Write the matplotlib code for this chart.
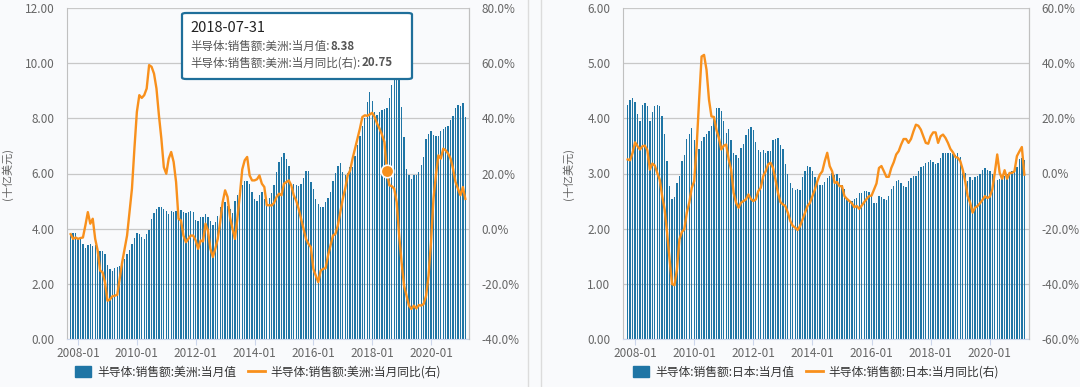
import numpy as np
import pandas as pd
import matplotlib
matplotlib.use("Agg")
import matplotlib.pyplot as plt
from matplotlib.patches import FancyBboxPatch, Patch
from matplotlib.lines import Line2D
from matplotlib.ticker import FixedLocator, FuncFormatter

plt.rcParams["font.family"] = ["Noto Sans CJK SC", "DejaVu Sans"]

# monthly categories, 2007-10 .. 2021-03
months = pd.date_range("2007-10-01", periods=162, freq="MS")
tick_labels = ["2008-01", "2010-01", "2012-01", "2014-01", "2016-01", "2018-01", "2020-01"]

# Americas: monthly sales (bn USD) and yoy (%)
am_val = [
    3.80, 3.83, 3.83, 3.62, 3.62, 3.43, 3.30, 3.42, 3.43, 3.38,
    3.40, 3.32, 3.20, 3.20, 3.07, 2.69, 2.52, 2.45, 2.57, 2.60,
    2.63, 2.79, 2.90, 3.08, 3.24, 3.43, 3.65, 3.86, 3.82, 3.71,
    3.62, 3.80, 3.95, 4.36, 4.57, 4.71, 4.79, 4.79, 4.73, 4.65,
    4.54, 4.65, 4.61, 4.65, 4.43, 4.67, 4.60, 4.57, 4.61, 4.65,
    4.61, 4.33, 4.27, 4.42, 4.44, 4.54, 4.43, 4.27, 4.15, 4.24,
    4.46, 4.77, 4.78, 4.96, 4.82, 4.72, 4.58, 5.01, 5.21, 5.39,
    5.59, 5.74, 5.71, 5.63, 5.33, 5.08, 5.02, 5.21, 5.33, 5.08,
    5.02,
    5.10, 5.30, 5.57, 6.05, 6.42, 6.60, 6.74, 6.54, 6.27, 5.63,
    5.63, 5.57, 5.54, 5.63, 5.84, 6.08, 6.08, 5.69, 5.42, 5.06,
    4.89, 4.79, 4.79, 4.96, 5.12, 5.33, 5.71, 6.03, 6.27, 6.39,
    6.05, 5.96, 6.03, 6.23, 6.23, 6.63, 7.02, 7.36, 7.72, 8.01,
    8.60, 8.96, 8.62, 8.23, 8.11, 8.23, 8.29, 8.35, 8.38, 8.72,
    9.22, 9.59, 9.75, 9.45, 8.41, 7.32, 6.17, 5.96, 5.79, 5.93,
    5.96, 6.05, 6.32, 6.60, 7.24, 7.45, 7.53, 7.41, 7.36, 7.36,
    7.53, 7.63, 7.70, 7.72, 7.93, 8.09, 8.38, 8.50, 8.45, 8.54,
    8.04,
]
am_yoy = [
    -2.0, -3.7, -3.2, -3.7, -3.4, -3.2, 1.2, 6.0, 1.8, 3.6,
    -3.7, -7.9, -15.2, -15.8, -19.4, -26.1, -25.7, -24.5, -24.3, -24.0,
    -18.2, -12.2, -7.3, -2.5, 6.0, 14.5, 29.0, 42.3, 48.4, 47.4,
    48.4, 50.8, 59.3, 58.7, 56.2, 50.8, 41.1, 32.6, 22.3, 19.9,
    25.4, 27.8, 24.2, 16.9, 3.6, 3.0, -2.5, -4.9, -3.7, -2.5,
    -2.5, -4.3, -7.3, -4.3, -4.6, 1.8, -0.7, -7.3, -10.3, -7.3,
    -3.7, 2.4, 9.6, 13.9, 11.5, 4.2, 0.0, -3.7, 3.6, 12.1,
    21.5, 24.8, 26.0, 19.3, 17.5, 17.5, 17.9, 19.3, 16.3, 15.1,
    8.5,
    8.5, 8.4, 9.4, 11.5, 12.7, 12.1, 16.3, 16.9, 17.5, 15.7,
    12.1, 10.2, 7.2, 3.6, 0.0, -3.7, -5.5, -6.7, -14.6, -17.0,
    -19.4, -15.2, -14.6, -14.3, -9.7, -6.1, -2.5, -1.9, 1.2, 6.0,
    10.8, 14.5, 19.3, 21.1, 25.4, 29.0, 32.6, 36.3, 40.5, 41.1,
    40.9, 41.4, 42.0, 40.5, 38.1, 36.3, 34.1, 31.4, 20.75, 15.7,
    15.4, 14.5, 9.6, -2.5, -12.2, -20.6, -24.3, -27.9, -29.1, -27.9,
    -28.9, -27.7, -27.9, -27.3, -24.3, -17.0, -4.9, 10.8, 19.3, 26.6,
    25.4, 29.0, 28.4, 27.2, 25.4, 21.7, 16.9, 14.5, 12.1, 15.1,
    10.8,
]

# Japan: monthly sales (bn USD) and yoy (%)
jp_val = [
    4.25, 4.34, 4.37, 4.30, 4.08, 3.95, 4.25, 4.28, 4.23, 3.95,
    4.11, 4.22, 4.24, 4.23, 4.05, 3.72, 3.22, 2.78, 2.53, 2.57,
    2.82, 2.96, 3.22, 3.34, 3.63, 3.72, 3.83, 3.60, 3.46, 3.45,
    3.59, 3.67, 3.72, 3.77, 3.87, 3.98, 4.19, 4.19, 4.14, 3.96,
    3.73, 3.81, 3.60, 3.37, 3.33, 3.28, 3.46, 3.54, 3.70, 3.80,
    3.84, 3.78, 3.58, 3.43, 3.39, 3.43, 3.37, 3.40, 3.40, 3.61,
    3.63, 3.64, 3.52, 3.45, 3.18, 3.00, 2.83, 2.74, 2.70, 2.72,
    2.70, 2.93, 3.05, 3.14, 3.12, 3.05, 2.93, 2.86, 2.80, 2.80,
    2.84,
    2.92, 2.95, 3.01, 2.98, 3.00, 2.92, 2.79, 2.71, 2.56, 2.52,
    2.50, 2.53, 2.56, 2.64, 2.65, 2.68, 2.68, 2.66, 2.59, 2.47,
    2.46, 2.59, 2.58, 2.54, 2.52, 2.59, 2.72, 2.78, 2.86, 2.89,
    2.83, 2.78, 2.76, 2.86, 2.92, 2.95, 2.96, 3.04, 3.12, 3.13,
    3.19, 3.20, 3.24, 3.20, 3.18, 3.19, 3.28, 3.37, 3.37, 3.37,
    3.37, 3.36, 3.34, 3.37, 3.30, 3.14, 3.01, 2.86, 2.94, 2.88,
    2.94, 2.96, 3.00, 3.06, 3.10, 3.07, 3.04, 3.00, 2.94, 2.88,
    2.90, 2.95, 2.96, 3.00, 3.01, 3.04, 3.07, 3.12, 3.27, 3.28,
    3.25,
]
jp_yoy = [
    5.1, 4.8, 7.5, 11.3, 9.9, 8.7, 9.9, 10.1, 8.4, 1.4,
    3.6, 2.9, 0.2, -2.2, -8.2, -13.0, -21.4, -31.1, -40.1, -40.5,
    -34.7, -23.9, -21.2, -20.2, -14.2, -10.6, -5.2, -2.8, 9.9, 26.8,
    42.4, 43.0, 37.6, 26.8, 20.7, 20.5, 15.9, 12.9, 8.7, 10.1,
    10.5, 5.1, 1.4, -7.0, -10.6, -12.4, -10.6, -10.0, -9.4, -7.6,
    -9.2, -10.0, -9.4, -6.4, -5.2, -1.0, 0.8, 3.3, 3.9, 2.0,
    -2.2, -7.0, -10.4, -11.2, -11.8, -14.2, -17.2, -19.0, -19.6, -20.5,
    -19.0, -16.6, -14.2, -11.8, -10.6, -8.2, -5.8, -2.8, -0.4, 0.8,
    4.5,
    7.5, 2.7, 0.8, -3.4, -3.1, -4.6, -4.6, -8.2, -9.2, -10.0,
    -10.8, -12.2, -11.8, -12.8, -11.6, -10.4, -9.2, -8.2, -8.0, -5.8,
    -3.6, 2.0, 2.7, 0.8, -1.2, -1.2, 2.0, 4.1, 6.9, 8.1,
    10.5, 12.5, 12.5, 11.1, 12.5, 15.3, 17.7, 17.3, 15.9, 13.5,
    11.1, 10.8, 13.5, 14.9, 14.9, 11.1, 13.5, 14.1, 12.9, 11.1,
    8.9, 7.7, 6.0, 5.7, 4.5, 1.4, -2.8, -8.2, -10.6, -14.2,
    -12.4, -11.8, -10.8, -9.6, -8.2, -8.9, -8.4, -5.8, 0.2, 6.9,
    0.2, -1.9, 1.2, -1.9, 0.2, 0.2, 0.8, 6.3, 8.0, 9.6,
    -0.4,
]

am_bar_name = "半导体:销售额:美洲:当月值"
am_line_name = "半导体:销售额:美洲:当月同比(右)"
jp_bar_name = "半导体:销售额:日本:当月值"
jp_line_name = "半导体:销售额:日本:当月同比(右)"

BLUE = "#1f75a5"
ORANGE = "#f8901c"
GRID = "#c8c8c8"
TXT = "#666666"
BG = "#f9fafc"

W, H = 1080, 387
fig = plt.figure(figsize=(W / 100, H / 100), dpi=100)
fig.patch.set_facecolor(BG)


def fx(px):
    return px / W


def fy(py):
    return 1 - py / H


x = np.arange(len(months))
tick_pos = [months.get_loc(pd.Timestamp(t + "-01")) for t in tick_labels]


def panel(left, right, xlim, vals, yoy, vmax, rlim, bar_name, line_name, lab_x):
    ax = fig.add_axes([fx(left), fy(339), fx(right - left), fy(8) - fy(339)])
    ax.set_facecolor(BG)
    ax.bar(x, vals, width=0.55, color=BLUE, zorder=2)
    ax.set_xlim(*xlim)
    ax.set_ylim(0, vmax)
    ax.yaxis.set_major_locator(FixedLocator(np.linspace(0, vmax, 7)))
    ax.yaxis.set_major_formatter(FuncFormatter(lambda v, p: f"{v:.2f}"))
    ax.grid(axis="y", color=GRID, lw=0.9, zorder=0)
    ax.set_xticks(tick_pos)
    ax.set_xticklabels(tick_labels)
    ax.tick_params(axis="x", length=4, color="#ccd6eb", labelsize=8.5, labelcolor=TXT, pad=2)
    ax.tick_params(axis="y", length=0, labelsize=8.5, labelcolor=TXT, pad=9)
    ax.spines["top"].set_visible(False)
    ax.spines["left"].set_color("#c0c0c0")
    ax.spines["bottom"].set_color("#ccd6eb")
    ax.spines["right"].set_color("#c0c0c0")
    ax.set_ylabel("(十亿美元)", fontsize=8, color=TXT)
    ax.yaxis.set_label_coords(lab_x, 0.5)

    ax2 = ax.twinx()
    ax2.plot(x, yoy, color=ORANGE, lw=1.7, zorder=3, solid_joinstyle="round")
    ax2.set_ylim(*rlim)
    ax2.yaxis.set_major_locator(FixedLocator(np.linspace(rlim[0], rlim[1], 7)))
    ax2.yaxis.set_major_formatter(FuncFormatter(lambda v, p: f"{v:.1f}%"))
    ax2.tick_params(axis="y", length=0, labelsize=8.5, labelcolor=TXT, pad=9)
    for s in ["top", "left", "bottom"]:
        ax2.spines[s].set_visible(False)
    ax2.spines["right"].set_color("#c0c0c0")

    handles = [
        Patch(facecolor=BLUE, edgecolor=BLUE, label=bar_name),
        Line2D([0], [0], color=ORANGE, lw=2, label=line_name),
    ]
    fig.legend(handles=handles, loc="center",
               bbox_to_anchor=(fx((left + right) / 2 - 10), fy(372)),
               ncol=2, frameon=False, fontsize=8.5, handlelength=1.4,
               handleheight=1.0, columnspacing=1.0, handletextpad=0.5,
               labelcolor="#333333")
    return ax, ax2


axA, axA2 = panel(67, 469, (-1.5, 162.5), am_val, am_yoy, 12, (-40, 80),
                  am_bar_name, am_line_name, -0.135)
axJ, axJ2 = panel(623, 1029, (-1.9, 162.9), jp_val, jp_yoy, 6, (-60, 60),
                  jp_bar_name, jp_line_name, -0.12)

# hovered point 2018-07
hi = months.get_loc(pd.Timestamp("2018-07-01"))
axA2.plot(x[hi], am_yoy[hi], "o", ms=9, color=ORANGE, mec="white", mew=1.2, zorder=5)

# tooltip
box = FancyBboxPatch((fx(182), fy(79)), fx(412 - 182), fy(13) - fy(79),
                     boxstyle="round,pad=0,rounding_size=0.004",
                     transform=fig.transFigure, facecolor="white",
                     edgecolor="#1f6f9a", lw=1.6, zorder=10)
fig.add_artist(box)
fig.text(fx(190), fy(28), "2018-07-31", fontsize=10.5, color="#222222",
         va="center", ha="left", zorder=11)
t1 = fig.text(fx(190), fy(46), am_bar_name + ":", fontsize=8.3, color="#555555",
              va="center", ha="left", zorder=11)
t2 = fig.text(fx(190), fy(63), am_line_name + ":", fontsize=8.3, color="#555555",
              va="center", ha="left", zorder=11)

fig.canvas.draw()
r = fig.canvas.get_renderer()
for t, val in [(t1, f"{am_val[hi]:.2f}"), (t2, f"{am_yoy[hi]:.2f}")]:
    bb = t.get_window_extent(r)
    fig.text((bb.x1 + 1) / fig.bbox.width, t.get_position()[1], val, fontsize=8.3,
             color="#555555", fontweight="bold", va="center", ha="left", zorder=11)

# container borders between the two charts
fig.add_artist(Line2D([fx(528), fx(528)], [0, 1], color="#dcdcdc", lw=1))
fig.add_artist(Line2D([fx(541), fx(541)], [0, 1], color="#dcdcdc", lw=1))

fig.savefig("out.png", dpi=100, facecolor=BG)
